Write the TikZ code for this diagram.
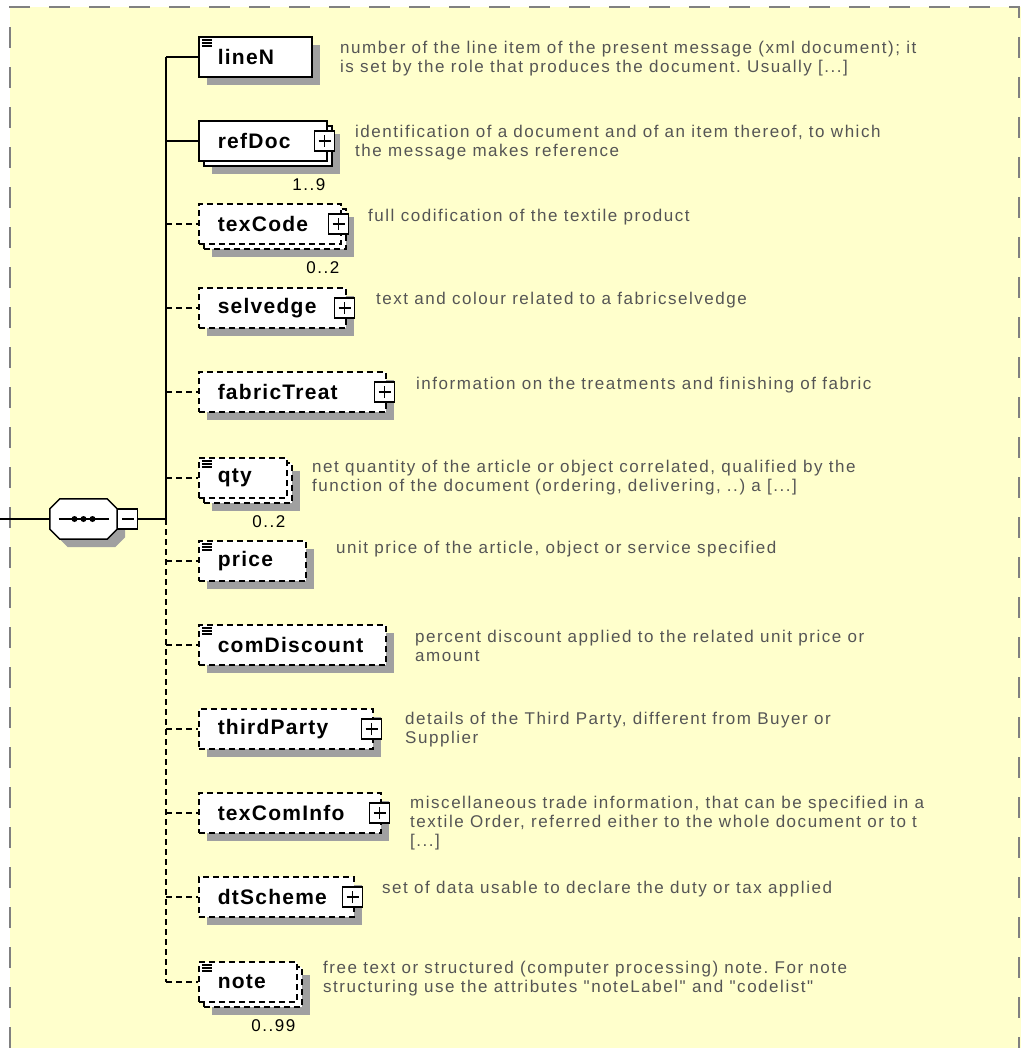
\documentclass[tikz,border=0pt]{standalone}
\usepackage{fontspec}
\setmainfont{Liberation Sans}
\newfontfamily\namefont{Liberation Sans}[LetterSpace=6]
\newfontfamily\notefont{Liberation Sans}[LetterSpace=9]
\usepackage{tikz}
\usetikzlibrary{shadows}
\frenchspacing

\definecolor{paneyellow}{HTML}{FFFFCC}
\definecolor{shadowgray}{HTML}{A0A0A0}
\definecolor{framegray}{HTML}{808080}
\definecolor{notegray}{HTML}{555555}

\newcommand{\seqoutline}{([xshift=10pt]seq.north west) -- ([xshift=-10pt]seq.north east) -- ([yshift=-10pt]seq.north east) -- ([yshift=10pt]seq.south east) -- ([xshift=-10pt]seq.south east) -- ([xshift=10pt]seq.south west) -- ([yshift=10pt]seq.south west) -- ([yshift=-10pt]seq.north west) -- cycle}

\tikzset{
	elem/.style={draw=black, fill=white, line width=1.5pt, anchor=west, minimum height=40pt, inner xsep=19pt, inner ysep=0pt, align=left, font=\namefont\bfseries\fontsize{21}{24}\selectfont},
	optional/.style={dash pattern=on 6pt off 4pt},
	single/.style={drop shadow={shadow xshift=8pt, shadow yshift=-8pt, fill=shadowgray, opacity=1}},
	repeated/.style={drop shadow={shadow xshift=13pt, shadow yshift=-13pt, fill=shadowgray, opacity=1}, copy shadow={shadow xshift=5pt, shadow yshift=-5pt, fill=white, draw=black}},
	leaf/.style={path picture={\foreach \d in {3,6,9} \draw[solid, line width=1.3pt] ([shift={(3pt,-\d pt)}]path picture bounding box.north west) -- ++(10pt,0pt);}},
	expander/.style={draw=black, fill=white, solid, line width=1.2pt, minimum size=20pt, inner sep=0pt, path picture={\draw[line width=1.2pt] ([xshift=-6pt]path picture bounding box.center) -- ([xshift=6pt]path picture bounding box.center) ([yshift=-6pt]path picture bounding box.center) -- ([yshift=6pt]path picture bounding box.center);}},
	collapser/.style={draw=black, fill=white, line width=1.2pt, minimum size=20pt, inner sep=0pt, path picture={\draw[line width=1.2pt] ([xshift=-6pt]path picture bounding box.center) -- ([xshift=6pt]path picture bounding box.center);}},
	sequence/.style={minimum width=67pt, minimum height=40pt, inner sep=0pt},
	seqline/.style={draw=black, fill=white, line width=1.5pt, drop shadow={shadow xshift=8pt, shadow yshift=-8pt, fill=shadowgray, opacity=1}},
	link/.style={draw=black, line width=1.8pt},
	frame/.style={draw=framegray, line width=2pt, dash pattern=on 21pt off 19pt},
	mult/.style={inner sep=0pt, anchor=east, font=\notefont\fontsize{17}{19}\selectfont},
	desc/.style={inner sep=0pt, anchor=west, align=left, text=notegray, font=\notefont\fontsize{17}{19}\selectfont}
}

\begin{document}
\begin{tikzpicture}[x=1pt, y=-1pt]

	\useasboundingbox (0,0) rectangle (1021,1048);
	\fill[paneyellow] (10,7) rectangle (1021,1048);
	\draw[frame] (10,1048) -- (10,7) -- (1019,7) -- (1019,1048);

	\coordinate (inlet) at (0,519);
	\coordinate (hub) at (166,519);

	\node[sequence] (seq) at (83.5,519) {};
	\path[seqline] \seqoutline;
	\node[collapser, anchor=west] (seqMinus) at (seq.east) {};
	\draw[line width=1.5pt] ([xshift=-25pt]seq.center) -- ([xshift=25pt]seq.center);
	\foreach \dx in {-9,0,9}
		\fill ([xshift=\dx pt]seq.center) circle (3pt);

	\node[elem, leaf, single, text width=75pt] (lineN) at (198,57) {lineN};
	\node[elem, repeated, text width=90pt] (refDoc) at (198,141) {refDoc};
	\node[elem, optional, repeated, text width=104pt] (texCode) at (198,224) {texCode};
	\node[elem, optional, single, text width=109pt] (selvedge) at (198,308) {selvedge};
	\node[elem, optional, single, text width=149pt] (fabricTreat) at (198,392) {fabricTreat};
	\node[elem, optional, leaf, repeated, text width=50pt] (qty) at (198,478) {qty};
	\node[elem, optional, leaf, single, text width=69pt] (price) at (198,561) {price};
	\node[elem, optional, leaf, single, text width=149pt] (comDiscount) at (198,645) {comDiscount};
	\node[elem, optional, single, text width=136pt] (thirdParty) at (198,729) {thirdParty};
	\node[elem, optional, single, text width=144pt] (texComInfo) at (198,813) {texComInfo};
	\node[elem, optional, single, text width=117pt] (dtScheme) at (198,897) {dtScheme};
	\node[elem, optional, leaf, repeated, text width=60pt] (note) at (198,982) {note};

	\node[expander] (refDocPlus) at ([xshift=-3pt]refDoc.east) {};
	\node[expander] (texCodePlus) at ([xshift=-3pt]texCode.east) {};
	\node[expander] (selvedgePlus) at ([xshift=-2pt]selvedge.east) {};
	\node[expander] (fabricTreatPlus) at ([xshift=-2pt]fabricTreat.east) {};
	\node[expander] (thirdPartyPlus) at ([xshift=-2pt]thirdParty.east) {};
	\node[expander] (texComInfoPlus) at ([xshift=-2pt]texComInfo.east) {};
	\node[expander] (dtSchemePlus) at ([xshift=-2pt]dtScheme.east) {};

	\node[mult] (refDocMult) at ([shift={(-2,23)}]refDoc.south east) {1..9};
	\node[mult] (texCodeMult) at ([shift={(-2,23)}]texCode.south east) {0..2};
	\node[mult] (qtyMult) at ([shift={(-2,23)}]qty.south east) {0..2};
	\node[mult] (noteMult) at ([shift={(-2,23)}]note.south east) {0..99};

	\draw[link] (inlet) -- (seq.west);
	\draw[link] (seqMinus.east) -- (hub);
	\draw[link] (lineN.west -| hub) -- (hub);
	\draw[link, optional] (hub) -- (note.west -| hub);
	\draw[link] (lineN.west -| hub) -- (lineN.west);
	\draw[link] (refDoc.west -| hub) -- (refDoc.west);
	\draw[link, optional] (texCode.west -| hub) -- (texCode.west);
	\draw[link, optional] (selvedge.west -| hub) -- (selvedge.west);
	\draw[link, optional] (fabricTreat.west -| hub) -- (fabricTreat.west);
	\draw[link, optional] (qty.west -| hub) -- (qty.west);
	\draw[link, optional] (price.west -| hub) -- (price.west);
	\draw[link, optional] (comDiscount.west -| hub) -- (comDiscount.west);
	\draw[link, optional] (thirdParty.west -| hub) -- (thirdParty.west);
	\draw[link, optional] (texComInfo.west -| hub) -- (texComInfo.west);
	\draw[link, optional] (dtScheme.west -| hub) -- (dtScheme.west);
	\draw[link, optional] (note.west -| hub) -- (note.west);

	\node[desc] (lineNNote) at (340,59) {number of the line item of the present message (xml document); it\\is set by the role that produces the document. Usually [...]};
	\node[desc] (refDocNote) at (355,143) {identification of a document and of an item thereof, to which\\the message makes reference};
	\node[desc] (texCodeNote) at (368,217) {full codification of the textile product};
	\node[desc] (selvedgeNote) at (376,300) {text and colour related to a fabricselvedge};
	\node[desc] (fabricTreatNote) at (416,385) {information on the treatments and finishing of fabric};
	\node[desc] (qtyNote) at (312,478) {net quantity of the article or object correlated, qualified by the\\function of the document (ordering, delivering, ..) a [...]};
	\node[desc] (priceNote) at (336,549) {unit price of the article, object or service specified};
	\node[desc] (comDiscountNote) at (415,646) {percent discount applied to the related unit price or\\amount};
	\node[desc] (thirdPartyNote) at (405,730) {details of the Third Party, different from Buyer or\\Supplier};
	\node[desc] (texComInfoNote) at (410,823) {miscellaneous trade information, that can be specified in a\\textile Order, referred either to the whole document or to t\\{}[...]};
	\node[desc] (dtSchemeNote) at (382,889) {set of data usable to declare the duty or tax applied};
	\node[desc] (noteNote) at (323,979) {free text or structured (computer processing) note. For note\\structuring use the attributes "noteLabel" and "codelist"};

\end{tikzpicture}
\end{document}
